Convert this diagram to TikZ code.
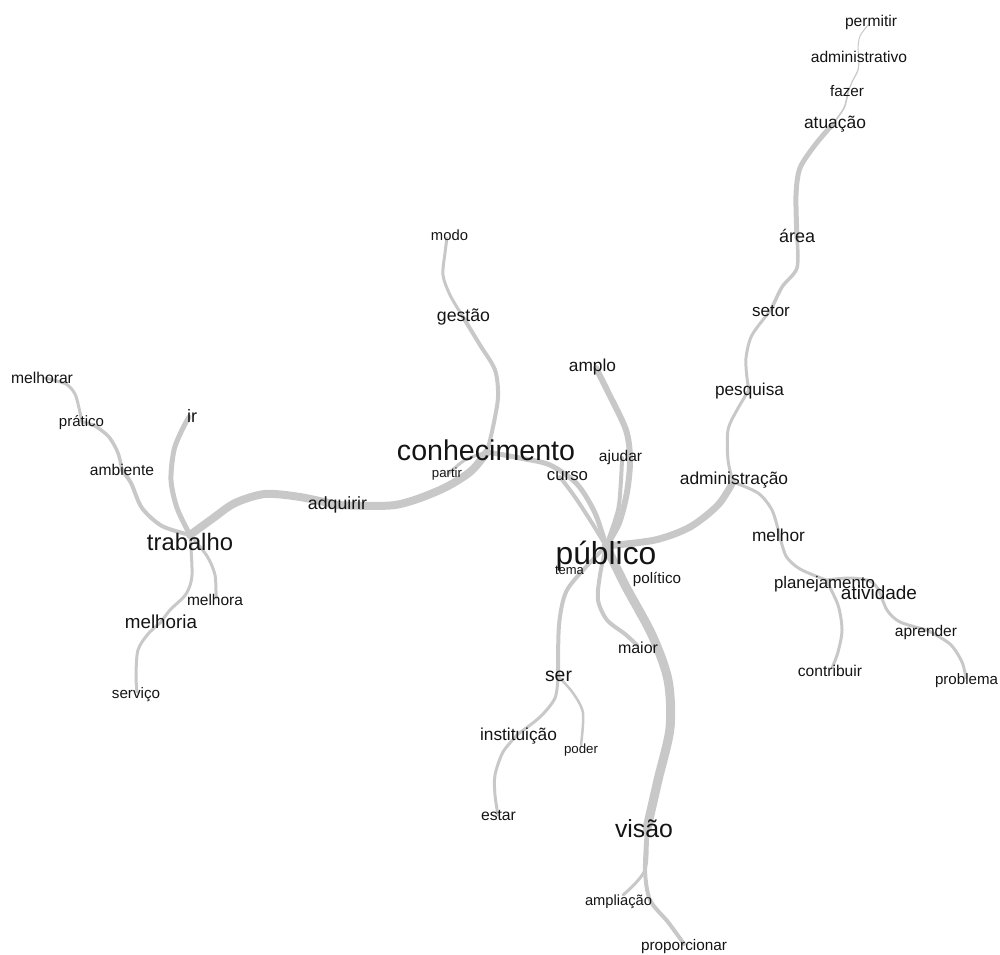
\documentclass[tikz,border=0pt]{standalone}
\usepackage{fontspec}
\setmainfont{Liberation Sans}
\definecolor{edgegray}{RGB}{200,200,200}
\definecolor{txt}{RGB}{20,20,20}
\tikzset{
  edge/.style={draw=edgegray, line cap=round, line join=round},
  lbl/.style={anchor=base, inner sep=0pt, text=txt},
}
\newcommand{\fs}[1]{\fontsize{#1}{#1}\selectfont}
\begin{document}
\begin{tikzpicture}[x=1pt,y=-1pt]
\useasboundingbox (0,0) rectangle (1000,954);
% vertices
\coordinate (permitir) at (868,25);
\coordinate (administrativo) at (859,58);
\coordinate (fazer) at (848,92);
\coordinate (atuacao) at (832,125);
\coordinate (area) at (797,238);
\coordinate (setor) at (771,310);
\coordinate (pesquisa) at (749,390);
\coordinate (administracao) at (733,482);
\coordinate (melhor) at (779,533);
\coordinate (planejamento) at (826,580);
\coordinate (atividade) at (879,590);
\coordinate (aprender) at (927,630);
\coordinate (problema) at (966,678);
\coordinate (contribuir) at (832,668);
\coordinate (publico) at (606,546);
\coordinate (maior) at (637,645);
\coordinate (ser) at (558,676);
\coordinate (instituicao) at (518,734);
\coordinate (poder) at (581,745);
\coordinate (estar) at (498,815);
\coordinate (visao) at (647,828);
\coordinate (ampliacao) at (623,895);
\coordinate (proporcionar) at (684,944);
\coordinate (curso) at (560,477);
\coordinate (ajudar) at (622,458);
\coordinate (amplo) at (596,368);
\coordinate (conhecimento) at (487,452);
\coordinate (partir) at (448,474);
\coordinate (gestao) at (463,317);
\coordinate (modo) at (447,238);
\coordinate (adquirir) at (337,505);
\coordinate (trabalho) at (190,535);
\coordinate (ir) at (189,417);
\coordinate (ambiente) at (122,470);
\coordinate (pratico) at (82,422);
\coordinate (melhorar) at (45,378);
\coordinate (melhora) at (216,598);
\coordinate (melhoria) at (161,622);
\coordinate (servico) at (137,692);
% edges
\draw[edge, line width=1pt] plot[smooth] coordinates {(permitir) (860,36) (858,48) (administrativo)};
\draw[edge, line width=1.2pt] plot[smooth] coordinates {(administrativo) (858,70) (852,82) (fazer)};
\draw[edge, line width=1.6pt] plot[smooth] coordinates {(fazer) (844,108) (atuacao)};
\draw[edge, line width=5pt] plot[smooth] coordinates {(atuacao) (815,145) (800,168) (796,195) (area)};
\draw[edge, line width=3.5pt] plot[smooth] coordinates {(area) (797,268) (782,287) (setor)};
\draw[edge, line width=3pt] plot[smooth] coordinates {(setor) (752,335) (746,358) (747,378) (pesquisa)};
\draw[edge, line width=3pt] plot[smooth] coordinates {(pesquisa) (737,410) (728,430) (728,460) (administracao)};
\draw[edge, line width=7pt] plot[smooth] coordinates {(administracao) (718,505) (690,527) (655,540) (publico)};
\draw[edge, line width=3pt] plot[smooth] coordinates {(administracao) (758,493) (772,510) (melhor)};
\draw[edge, line width=3pt] plot[smooth] coordinates {(melhor) (786,556) (800,569) (planejamento)};
\draw[edge, line width=3pt] plot[smooth] coordinates {(planejamento) (850,578) (870,581) (atividade)};
\draw[edge, line width=3pt] plot[smooth] coordinates {(atividade) (887,610) (900,622) (aprender)};
\draw[edge, line width=3pt] plot[smooth] coordinates {(aprender) (950,644) (962,662) (problema)};
\draw[edge, line width=3pt] plot[smooth] coordinates {(planejamento) (838,605) (842,630) (838,652) (contribuir)};
\draw[edge, line width=9pt] plot[smooth] coordinates {(publico) (625,585) (652,635) (668,680) (670,728) (658,780) (visao)};
\draw[edge, line width=3pt] plot[smooth] coordinates {(visao) (645,870) (ampliacao)};
\draw[edge, line width=4pt] plot[smooth] coordinates {(visao) (645,870) (650,900) (668,922) (proporcionar)};
\draw[edge, line width=4pt] plot[smooth] coordinates {(publico) (600,575) (598,600) (607,620) (625,634) (maior)};
\draw[edge, line width=4pt] plot[smooth] coordinates {(publico) (585,568) (566,592) (559,625) (ser)};
\draw[edge, line width=3pt] plot[smooth] coordinates {(ser) (555,698) (540,717) (instituicao)};
\draw[edge, line width=3pt] plot[smooth] coordinates {(instituicao) (503,752) (495,775) (495,795) (estar)};
\draw[edge, line width=2.5pt] plot[smooth] coordinates {(ser) (573,693) (583,713) (poder)};
\draw[edge, line width=5pt] plot[smooth] coordinates {(conhecimento) (520,458) (550,465) (577,484) (595,513) (publico)};
\draw[edge, line width=4pt] plot[smooth] coordinates {(curso) (575,497) (592,523) (publico)};
\draw[edge, line width=6pt] plot[smooth] coordinates {(amplo) (608,392) (626,430) (630,460) (627,492) (619,523) (publico)};
\draw[edge, line width=4pt] plot[smooth] coordinates {(ajudar) (621,480) (618,510) (publico)};
\draw[edge, line width=4pt] plot[smooth] coordinates {(conhecimento) (493,427) (498,397) (495,370) (480,345) (gestao)};
\draw[edge, line width=3pt] plot[smooth] coordinates {(gestao) (450,295) (443,275) (445,253) (modo)};
\draw[edge, line width=3pt] plot[smooth] coordinates {(conhecimento) (465,460) (partir)};
\draw[edge, line width=8pt] plot[smooth] coordinates {(conhecimento) (470,472) (440,490) (395,505) (adquirir)};
\draw[edge, line width=8pt] plot[smooth] coordinates {(adquirir) (300,497) (265,494) (235,503) (212,519) (trabalho)};
\draw[edge, line width=5pt] plot[smooth] coordinates {(trabalho) (177,508) (171,480) (174,450) (182,430) (ir)};
\draw[edge, line width=4pt] plot[smooth] coordinates {(trabalho) (162,526) (142,508) (131,483) (ambiente)};
\draw[edge, line width=3.5pt] plot[smooth] coordinates {(ambiente) (118,453) (109,437) (95,426) (pratico)};
\draw[edge, line width=3pt] plot[smooth] coordinates {(pratico) (79,408) (75,394) (66,384) (melhorar)};
\draw[edge, line width=3pt] plot[smooth] coordinates {(trabalho) (207,556) (215,575) (melhora)};
\draw[edge, line width=3pt] plot[smooth] coordinates {(trabalho) (192,575) (186,594) (170,610) (melhoria)};
\draw[edge, line width=3pt] plot[smooth] coordinates {(melhoria) (148,634) (138,650) (136,675) (servico)};
% labels
\node[lbl, font=\fs{15.6}] (L-permitir) at (871,26) {permitir};
\node[lbl, font=\fs{15.6}] (L-administrativo) at (859,62) {administrativo};
\node[lbl, font=\fs{15.3}] (L-fazer) at (847,96) {fazer};
\node[lbl, font=\fs{17.4}] (L-atuacao) at (835,128) {atuação};
\node[lbl, font=\fs{18}] (L-area) at (797,242) {área};
\node[lbl, font=\fs{17}] (L-setor) at (771,316) {setor};
\node[lbl, font=\fs{17.2}] (L-pesquisa) at (749.5,395) {pesquisa};
\node[lbl, font=\fs{17.4}] (L-administracao) at (734,484) {administração};
\node[lbl, font=\fs{17.3}] (L-melhor) at (778.5,541) {melhor};
\node[lbl, font=\fs{16.8}] (L-planejamento) at (824.5,588) {planejamento};
\node[lbl, font=\fs{19}] (L-atividade) at (879,599) {atividade};
\node[lbl, font=\fs{15.5}] (L-aprender) at (926,636) {aprender};
\node[lbl, font=\fs{15.1}] (L-problema) at (966.5,684) {problema};
\node[lbl, font=\fs{15.6}] (L-contribuir) at (830,676) {contribuir};
\node[lbl, font=\fs{31.8}] (L-publico) at (606,564) {público};
\node[lbl, font=\fs{15.2}] (L-politico) at (657,583) {político};
\node[lbl, font=\fs{13}] (L-tema) at (569.5,574) {tema};
\node[lbl, font=\fs{16}] (L-maior) at (638,653) {maior};
\node[lbl, font=\fs{19.4}] (L-ser) at (558.5,681) {ser};
\node[lbl, font=\fs{17.3}] (L-instituicao) at (518.5,740) {instituição};
\node[lbl, font=\fs{13.3}] (L-poder) at (581,753) {poder};
\node[lbl, font=\fs{15.7}] (L-estar) at (498.5,820) {estar};
\node[lbl, font=\fs{24.8}] (L-visao) at (644,837) {visão};
\node[lbl, font=\fs{14.7}] (L-ampliacao) at (618.5,905) {ampliação};
\node[lbl, font=\fs{15.3}] (L-proporcionar) at (684,950) {proporcionar};
\node[lbl, font=\fs{16.8}] (L-curso) at (567.5,480) {curso};
\node[lbl, font=\fs{15.5}] (L-ajudar) at (620.5,461) {ajudar};
\node[lbl, font=\fs{17.3}] (L-amplo) at (592.5,371) {amplo};
\node[lbl, font=\fs{28.6}] (L-conhecimento) at (486,460) {conhecimento};
\node[lbl, font=\fs{13.2}] (L-partir) at (447,477) {partir};
\node[lbl, font=\fs{17.7}] (L-gestao) at (463.5,321) {gestão};
\node[lbl, font=\fs{14.8}] (L-modo) at (449.5,240) {modo};
\node[lbl, font=\fs{17.7}] (L-adquirir) at (337.5,509) {adquirir};
\node[lbl, font=\fs{23.8}] (L-trabalho) at (190,550) {trabalho};
\node[lbl, font=\fs{18}] (L-ir) at (192,422) {ir};
\node[lbl, font=\fs{15.6}] (L-ambiente) at (122,475) {ambiente};
\node[lbl, font=\fs{15}] (L-pratico) at (81.5,426) {prático};
\node[lbl, font=\fs{15.7}] (L-melhorar) at (42,383) {melhorar};
\node[lbl, font=\fs{15.5}] (L-melhora) at (215,605) {melhora};
\node[lbl, font=\fs{18.8}] (L-melhoria) at (161,628) {melhoria};
\node[lbl, font=\fs{15.2}] (L-servico) at (136,698) {serviço};
\end{tikzpicture}
\end{document}
